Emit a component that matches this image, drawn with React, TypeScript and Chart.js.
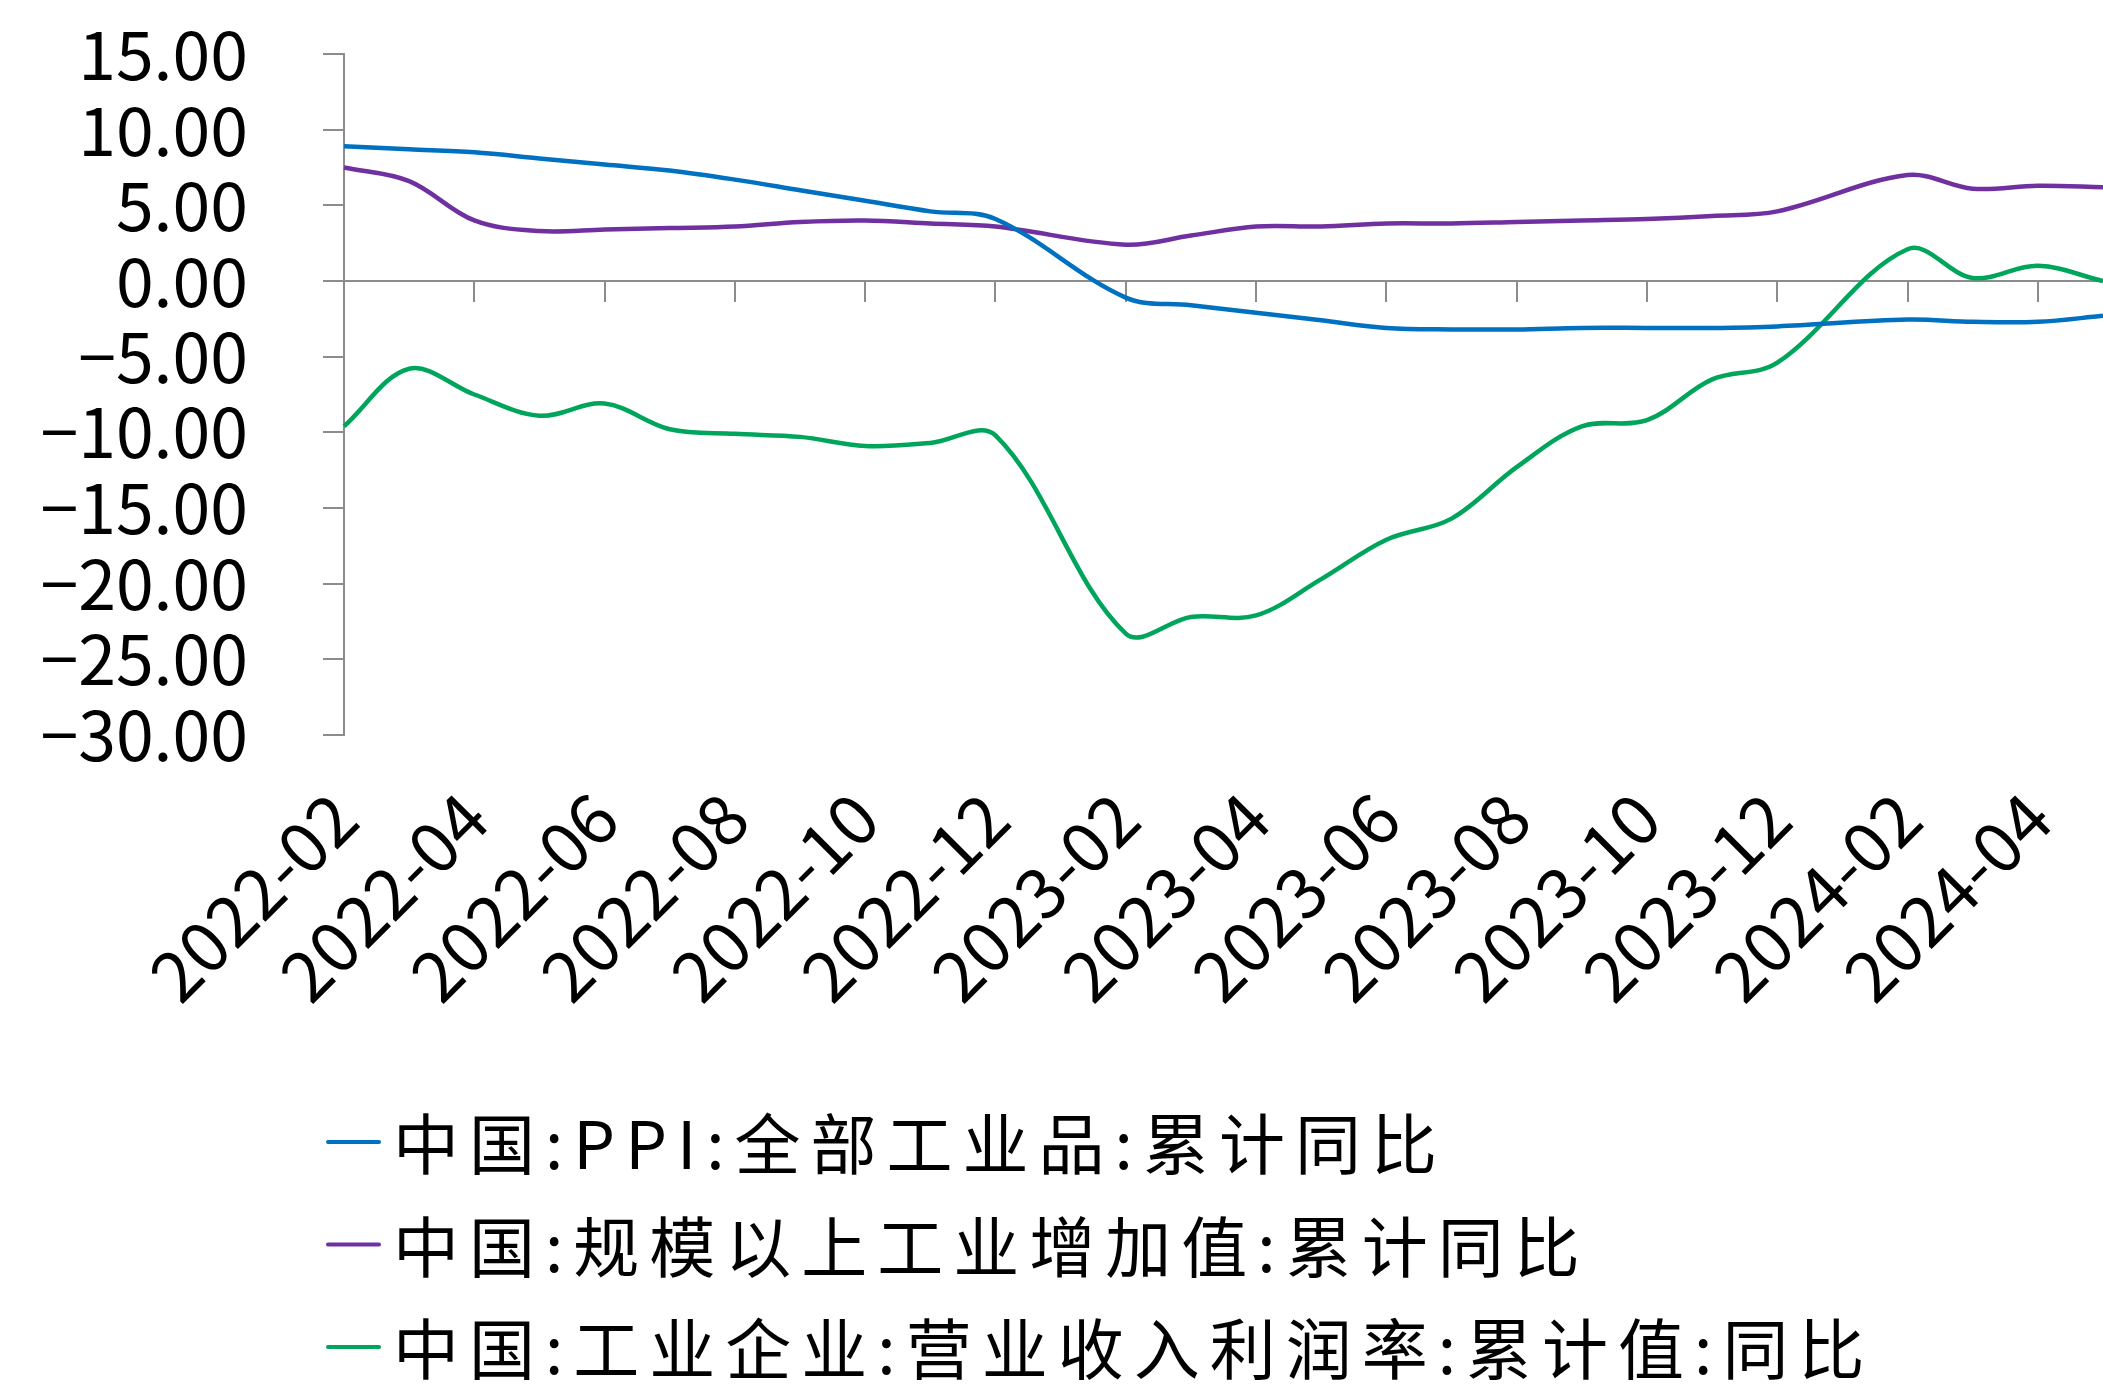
import React, { useEffect, useRef } from 'react';
import { Chart, registerables } from 'chart.js';

Chart.register(...registerables);

// ---- data ----
const months: string[] = [
  '2022-02', '2022-03', '2022-04', '2022-05', '2022-06', '2022-07', '2022-08',
  '2022-09', '2022-10', '2022-11', '2022-12', '2023-01', '2023-02', '2023-03',
  '2023-04', '2023-05', '2023-06', '2023-07', '2023-08', '2023-09', '2023-10',
  '2023-11', '2023-12', '2024-01', '2024-02', '2024-03', '2024-04', '2024-05',
];

const ppiCumYoY: (number | null)[] = [
  8.9, 8.7, 8.5, 8.1, 7.7, 7.3, 6.7, 6.0, 5.3, 4.6, 4.1, null, -1.1, -1.6,
  -2.1, -2.6, -3.1, -3.2, -3.2, -3.1, -3.1, -3.1, -3.0, null, -2.55, -2.7, -2.7, -2.3,
];

const industrialValueAddedCumYoY: (number | null)[] = [
  7.5, 6.6, 4.0, 3.3, 3.4, 3.5, 3.6, 3.9, 4.0, 3.8, 3.6, null, 2.4, 3.0,
  3.6, 3.6, 3.8, 3.8, 3.9, 4.0, 4.1, 4.3, 4.6, null, 7.0, 6.1, 6.3, 6.2,
];

const profitMarginCumYoY: (number | null)[] = [
  -9.6, -5.8, -7.5, -8.9, -8.1, -9.8, -10.1, -10.3, -10.9, -10.7, -10.2, null, -23.3, -22.2,
  -22.1, -19.7, -17.1, -15.7, -12.3, -9.6, -9.2, -6.5, -5.4, null, 2.1, 0.2, 1.0, 0.0,
];

const seriesLabels: string[] = [
  '中国:PPI:全部工业品:累计同比',
  '中国:规模以上工业增加值:累计同比',
  '中国:工业企业:营业收入利润率:累计值:同比',
];

const seriesColors: string[] = ['#0070C0', '#7030A0', '#00A55C'];

const yMin = -30;
const yMax = 15;
const yStep = 5;

// ---- style constants ----
const W = 2103;
const H = 1391;
const AXIS_COLOR = '#8C8C8C';
const FONT = "'Noto Sans CJK SC', 'Noto Sans', sans-serif";
const X_AXIS_H = 330;

const fmt = (v: number) => (v < 0 ? '\u2212' : '') + Math.abs(v).toFixed(2);

const zeroAxisPlugin = {
  id: 'zeroAxis',
  beforeDatasetsDraw(chart: any) {
    const { ctx, chartArea, scales } = chart;
    const x = scales.x;
    const y = scales.y;
    const y0 = Math.round(y.getPixelForValue(0));
    ctx.save();
    ctx.strokeStyle = AXIS_COLOR;
    ctx.lineWidth = 2;
    ctx.beginPath();
    ctx.moveTo(chartArea.left, y0);
    ctx.lineTo(chartArea.right, y0);
    months.forEach((_, i) => {
      if (i % 2 === 0) {
        const px = Math.round(x.getPixelForValue(i));
        ctx.moveTo(px, y0);
        ctx.lineTo(px, y0 + 21);
      }
    });
    ctx.stroke();
    ctx.restore();
  },
};

const stackedLegendPlugin = {
  id: 'stackedLegend',
  afterDraw(chart: any) {
    const { ctx } = chart;
    const top = 1142;
    const row = 102.5;
    ctx.save();
    chart.data.datasets.forEach((ds: any, i: number) => {
      const y = top + i * row;
      ctx.strokeStyle = ds.borderColor;
      ctx.lineWidth = 4;
      ctx.lineCap = 'round';
      ctx.beginPath();
      ctx.moveTo(328, y);
      ctx.lineTo(379, y);
      ctx.stroke();
      ctx.font = `66px ${FONT}`;
      (ctx as any).letterSpacing = '10px';
      ctx.fillStyle = '#000';
      ctx.textBaseline = 'middle';
      ctx.textAlign = 'left';
      ctx.fillText(ds.label, 393, y + 2);
    });
    ctx.restore();
  },
};

export default function App() {
  const ref = useRef<HTMLCanvasElement>(null);

  useEffect(() => {
    document.body.style.margin = '0';
    document.body.style.overflow = 'hidden';
    const canvas = ref.current;
    if (!canvas) return;
    const data = [ppiCumYoY, industrialValueAddedCumYoY, profitMarginCumYoY];
    const chart = new Chart(canvas, {
      type: 'line',
      data: {
        labels: months,
        datasets: data.map((d, i) => ({
          label: seriesLabels[i],
          data: d,
          borderColor: seriesColors[i],
          backgroundColor: seriesColors[i],
          borderWidth: 4.5,
          pointRadius: 0,
          pointHoverRadius: 0,
          tension: 0.35,
          spanGaps: true,
          fill: false,
        })),
      },
      options: {
        responsive: false,
        animation: false,
        devicePixelRatio: 1,
        layout: { padding: { top: 54, right: 0, bottom: H - 735 - X_AXIS_H, left: 0 } },
        plugins: {
          legend: { display: false },
          tooltip: { enabled: false },
          title: { display: false },
        },
        scales: {
          x: {
            type: 'category',
            position: 'bottom',
            offset: false,
            grid: { display: false, drawTicks: false },
            border: { display: false },
            ticks: {
              autoSkip: false,
              maxRotation: 45,
              minRotation: 45,
              padding: 70,
              color: '#000',
              font: { family: FONT, size: 70, lineHeight: 0.02 },
              callback: (_v: any, idx: number) => (idx % 2 === 0 ? months[idx] : null),
            },
            afterFit: (s: any) => {
              s.height = X_AXIS_H;
              s.paddingLeft = 0;
              s.paddingRight = 0;
            },
          },
          y: {
            type: 'linear',
            min: yMin,
            max: yMax,
            position: 'left',
            grid: {
              drawOnChartArea: false,
              drawTicks: true,
              tickLength: 21,
              color: AXIS_COLOR,
              lineWidth: 2,
            },
            border: { display: true, color: AXIS_COLOR, width: 2 },
            ticks: {
              stepSize: yStep,
              autoSkip: false,
              padding: 75,
              color: '#000',
              font: { family: FONT, size: 68, lineHeight: 0.8 },
              callback: (v: any) => fmt(Number(v)),
            },
            afterFit: (s: any) => {
              s.width = 344;
              s.paddingTop = 0;
              s.paddingBottom = 0;
            },
          },
        },
      },
      plugins: [zeroAxisPlugin, stackedLegendPlugin],
    });
    return () => chart.destroy();
  }, []);

  return (
    <div style={{ width: W, height: H, background: '#fff' }}>
      <canvas ref={ref} width={W} height={H} style={{ display: 'block' }} />
    </div>
  );
}
